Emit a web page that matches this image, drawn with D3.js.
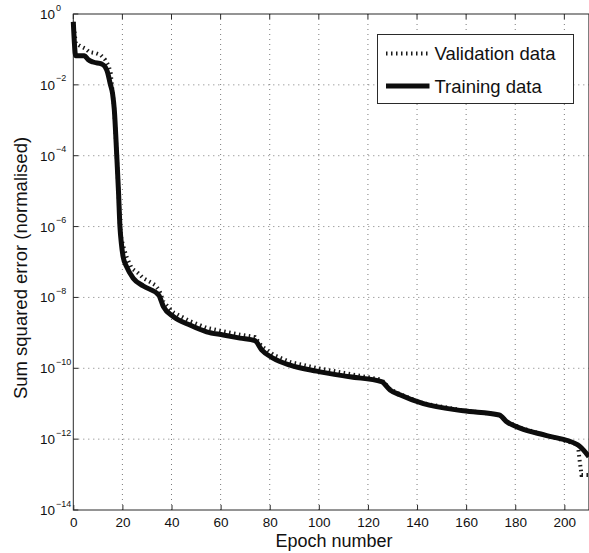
<!DOCTYPE html>
<html>
<head>
<meta charset="utf-8">
<script src="https://cdn.jsdelivr.net/npm/d3@7/dist/d3.min.js"></script>
<style>
  html, body { margin: 0; padding: 0; background: #fff; }
  svg { display: block; font-family: "Liberation Sans", Arial, Helvetica, sans-serif; }
</style>
</head>
<body>
<svg id="chart" width="589" height="553"></svg>
<script>
// Training error per epoch (epoch, sum squared error, normalised)
const trainEpochs = [0, 1, 4.5, 6, 8, 11.5, 13, 14, 15, 16, 16.7, 17.7, 18.4, 19.0, 19.6, 20.3, 21.7, 24.4, 28.5, 34.8, 36.7, 40.7, 47.5, 54.3, 61.1, 67.9, 74.0, 76.7, 81.5, 88.3, 99.1, 112.7, 125.5, 129, 133, 142.6, 158.9, 173.5, 176.5, 182, 192.8, 205.5, 210];
const trainError = [6.0e-1, 6.6e-2, 6.6e-2, 5.2e-2, 4.4e-2, 3.9e-2, 3.2e-2, 2.2e-2, 1.1e-2, 5.6e-3, 2.0e-3, 1.0e-4, 1.0e-5, 1.0e-6, 3.2e-7, 1.4e-7, 7.4e-8, 3.5e-8, 2.1e-8, 1.17e-8, 5.5e-9, 2.9e-9, 1.66e-9, 1.07e-9, 8.7e-10, 7.1e-10, 6.0e-10, 3.3e-10, 1.9e-10, 1.23e-10, 8.3e-11, 5.75e-11, 4.2e-11, 2.45e-11, 1.78e-11, 1.0e-11, 6.3e-12, 4.8e-12, 3.1e-12, 2.05e-12, 1.26e-12, 6.9e-13, 3.2e-13];

// Validation error per epoch
const valEpochs = [0, 1, 2.7, 4.8, 6.5, 9.2, 11.2, 12.9, 14.3, 15.2, 16, 16.7, 17.7, 18.4, 19.0, 19.6, 20.4, 21.7, 23.8, 26.5, 28.5, 31.2, 33.3, 35.0, 36.7, 40.7, 47.5, 54.3, 61.1, 67.9, 74.0, 76.7, 81.5, 88.3, 99.1, 112.7, 125.5, 129, 133, 142.6, 158.9, 173.5, 176.5, 182, 192.8, 205.5, 206.2, 207, 210];
const valError = [6.0e-1, 1.5e-1, 1.26e-1, 1.07e-1, 8.5e-2, 7.8e-2, 6.9e-2, 5.2e-2, 3.6e-2, 2.2e-2, 6.3e-3, 2.0e-3, 1.0e-4, 1.0e-5, 1.0e-6, 4.5e-7, 2.7e-7, 1.4e-7, 6.6e-8, 4.8e-8, 3.5e-8, 2.75e-8, 2.24e-8, 1.6e-8, 7.6e-9, 3.8e-9, 2.14e-9, 1.38e-9, 1.1e-9, 8.9e-10, 7.6e-10, 4.2e-10, 2.4e-10, 1.5e-10, 1.02e-10, 6.9e-11, 4.8e-11, 2.57e-11, 1.86e-11, 1.02e-11, 6.45e-12, 4.9e-12, 3.16e-12, 2.1e-12, 1.26e-12, 7.1e-13, 2.6e-13, 9.8e-14, 9.8e-14];

// Axis ticks
const xTicks = [0, 20, 40, 60, 80, 100, 120, 140, 160, 180, 200];
const yTickExponents = [0, -2, -4, -6, -8, -10, -12, -14];

const legendLabels = ["Validation data", "Training data"];

const svg = d3.select("#chart");
const plot = { left: 73.3, top: 14, right: 588.9, bottom: 510 };

const x = d3.scaleLinear().domain([0, 210]).range([plot.left, plot.right]);
const y = d3.scaleLog().domain([1e-14, 1]).range([plot.bottom, plot.top]);

const axisColor = "#2a2a2a";
const inkColor = "#111";

// Grid lines (dotted)
const grid = svg.append("g").attr("class", "grid");
grid.selectAll("line.gx").data(xTicks.filter(t => t > 0)).enter().append("line")
  .attr("x1", d => x(d)).attr("x2", d => x(d))
  .attr("y1", plot.top).attr("y2", plot.bottom)
  .attr("stroke", "#7a7a7a").attr("stroke-width", 1)
  .attr("stroke-dasharray", "1,4");
grid.selectAll("line.gy").data(yTickExponents.filter(e => e < 0 && e > -14)).enter().append("line")
  .attr("x1", plot.left).attr("x2", plot.right)
  .attr("y1", d => y(Math.pow(10, d))).attr("y2", d => y(Math.pow(10, d)))
  .attr("stroke", "#7a7a7a").attr("stroke-width", 1)
  .attr("stroke-dasharray", "1,4");

// Axis frame
svg.append("rect")
  .attr("x", plot.left).attr("y", plot.top)
  .attr("width", plot.right - plot.left).attr("height", plot.bottom - plot.top)
  .attr("fill", "none").attr("stroke", axisColor).attr("stroke-width", 1);

// X axis with inward ticks
const xAxis = d3.axisBottom(x).tickValues(xTicks).tickSizeInner(-5).tickSizeOuter(0).tickPadding(7)
  .tickFormat(d3.format("d"));
const gx = svg.append("g").attr("transform", `translate(0,${plot.bottom})`).call(xAxis);
gx.select(".domain").remove();
gx.selectAll(".tick line").attr("stroke", axisColor);
gx.selectAll(".tick text")
  .attr("font-size", 13.5).attr("fill", inkColor)
  .attr("font-family", "'Liberation Sans', Arial, Helvetica, sans-serif");

// Top ticks
svg.append("g").selectAll("line").data(xTicks).enter().append("line")
  .attr("x1", d => x(d)).attr("x2", d => x(d))
  .attr("y1", plot.top).attr("y2", plot.top + 5)
  .attr("stroke", axisColor);

// Y axis ticks and power-of-ten labels
const gy = svg.append("g");
gy.selectAll("line").data(yTickExponents).enter().append("line")
  .attr("x1", plot.left).attr("x2", plot.left + 5)
  .attr("y1", d => y(Math.pow(10, d))).attr("y2", d => y(Math.pow(10, d)))
  .attr("stroke", axisColor);
const yLabels = gy.selectAll("text").data(yTickExponents).enter().append("text")
  .attr("x", 40)
  .attr("y", d => y(Math.pow(10, d)) + 5)
  .attr("font-size", 13.5)
  .attr("fill", inkColor);
yLabels.append("tspan").text("10");
yLabels.append("tspan")
  .attr("dx", 1).attr("dy", -8.5)
  .attr("font-size", 9)
  .text(d => d === 0 ? "0" : "\u2212" + Math.abs(d));

// Axis titles
svg.append("text")
  .attr("x", (plot.left + plot.right) / 2 + 3)
  .attr("y", 547)
  .attr("text-anchor", "middle")
  .attr("font-size", 18)
  .attr("fill", inkColor)
  .text("Epoch number");

svg.append("text")
  .attr("transform", `translate(27,${(plot.top + plot.bottom) / 2 + 6}) rotate(-90)`)
  .attr("text-anchor", "middle")
  .attr("font-size", 18.5)
  .attr("fill", inkColor)
  .text("Sum squared error (normalised)");

// Curves
const line = d3.line()
  .x(d => x(d[0]))
  .y(d => y(d[1]));

const trainData = trainEpochs.map((e, i) => [e, trainError[i]]);
const valData = valEpochs.map((e, i) => [e, valError[i]]);

const valStyle = { stroke: "#1a1a1a", width: 4, dash: "1.5,3.5" };
const trainStyle = { stroke: "#0d0d0d", width: 5 };

svg.append("path")
  .datum(valData)
  .attr("d", line.curve(d3.curveLinear))
  .attr("fill", "none")
  .attr("stroke", valStyle.stroke)
  .attr("stroke-width", valStyle.width)
  .attr("stroke-dasharray", valStyle.dash);

svg.append("path")
  .datum(trainData)
  .attr("d", line.curve(d3.curveMonotoneX))
  .attr("fill", "none")
  .attr("stroke", trainStyle.stroke)
  .attr("stroke-width", trainStyle.width)
  .attr("stroke-linejoin", "round");

// Legend
const legend = svg.append("g");
legend.append("rect")
  .attr("x", 377.5).attr("y", 34.5).attr("width", 196).attr("height", 69)
  .attr("fill", "#fff").attr("stroke", axisColor).attr("stroke-width", 1);
const legendRows = [
  { label: legendLabels[0], y: 53.5, style: valStyle },
  { label: legendLabels[1], y: 86, style: trainStyle }
];
legendRows.forEach(r => {
  legend.append("line")
    .attr("x1", 386).attr("x2", 429.5)
    .attr("y1", r.y).attr("y2", r.y)
    .attr("stroke", r.style.stroke)
    .attr("stroke-width", r.style.width)
    .attr("stroke-dasharray", r.style.dash || null);
  legend.append("text")
    .attr("x", 434.5).attr("y", r.y + 6.5)
    .attr("font-size", 18.5)
    .attr("fill", inkColor)
    .text(r.label);
});
</script>
</body>
</html>
